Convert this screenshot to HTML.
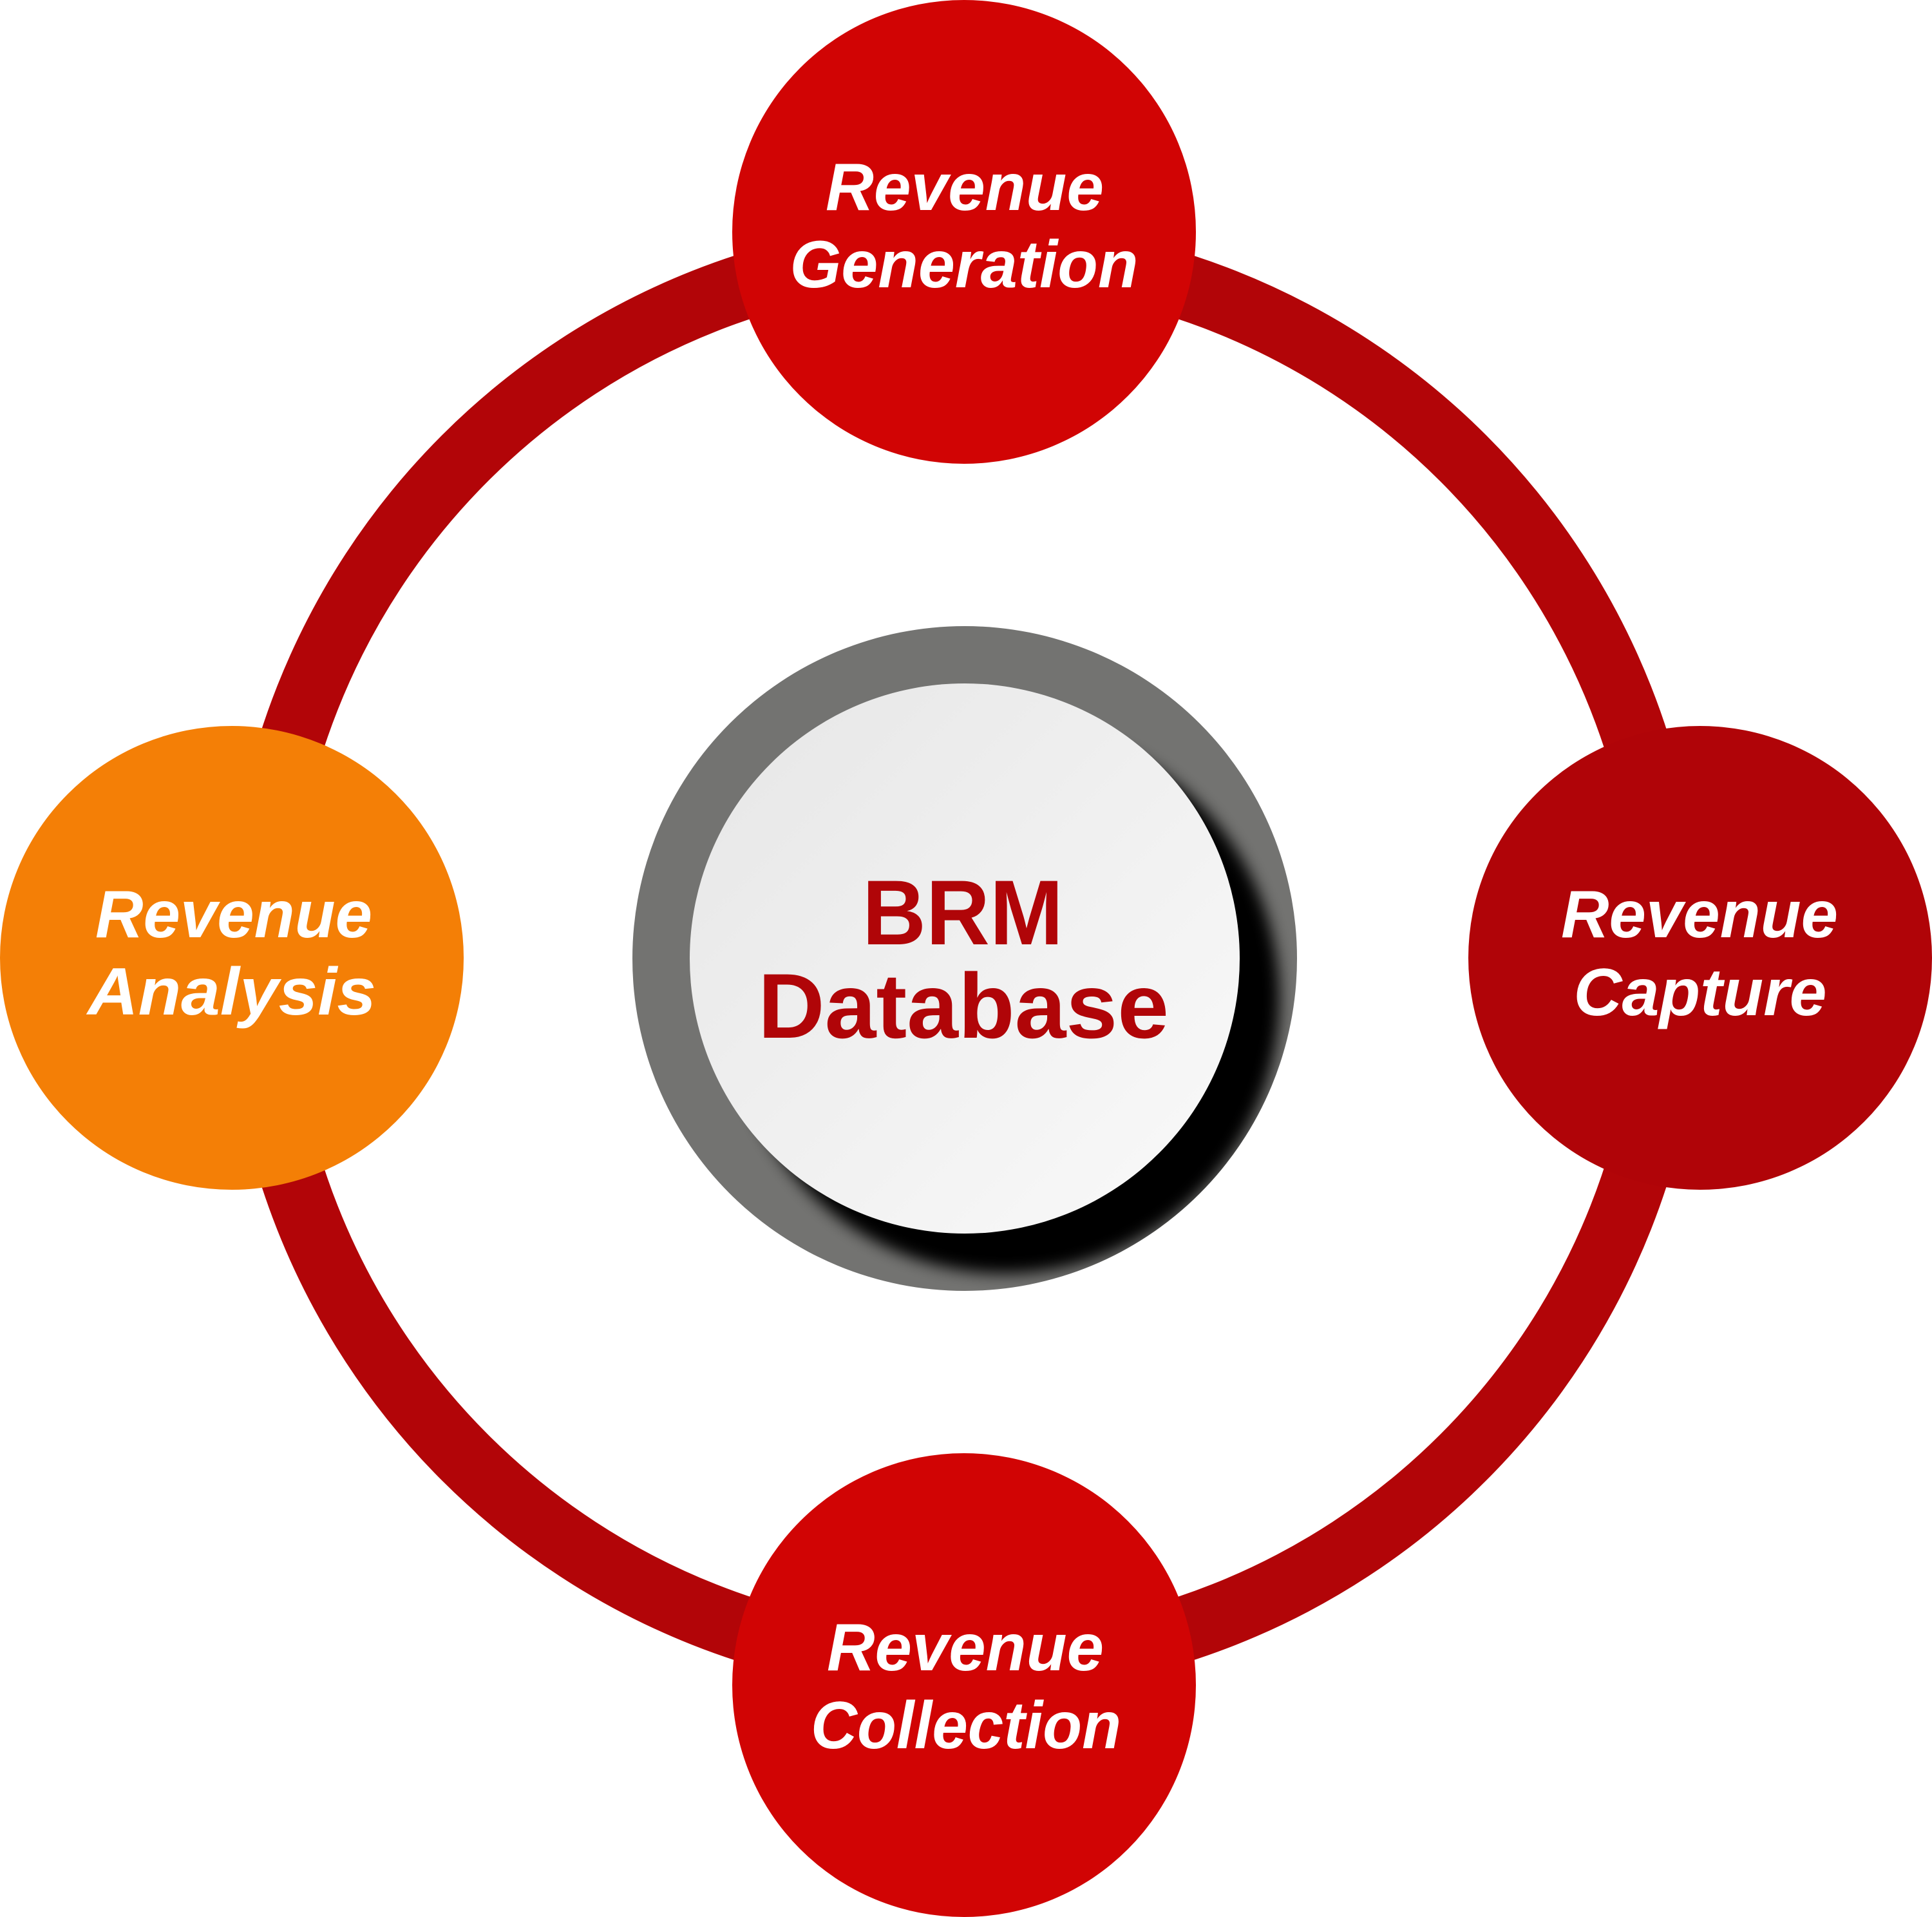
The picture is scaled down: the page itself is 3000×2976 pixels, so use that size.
<!DOCTYPE html>
<html>
<head>
<meta charset="utf-8">
<style>
  html, body { margin: 0; padding: 0; background: #ffffff; }
  svg { display: block; }
  .lbl { font-family: "Liberation Sans", sans-serif; font-weight: bold; font-style: italic; font-size: 104px; fill: #ffffff; }
  .db { font-family: "Liberation Sans", sans-serif; font-weight: bold; font-size: 143px; fill: #b00508; }
</style>
</head>
<body>
<svg width="3000" height="2976" viewBox="0 0 3000 2976" xmlns="http://www.w3.org/2000/svg">
  <defs>
    <clipPath id="outerClip">
      <circle cx="1498" cy="1488" r="516"/>
    </clipPath>
    <filter id="blur" x="-30%" y="-30%" width="160%" height="160%">
      <feGaussianBlur stdDeviation="12"/>
    </filter>
    <linearGradient id="wg" x1="0" y1="0" x2="1" y2="1">
      <stop offset="0" stop-color="#e6e6e6"/>
      <stop offset="1" stop-color="#fafafa"/>
    </linearGradient>
  </defs>

  <!-- big ring -->
  <circle cx="1497" cy="1487" r="1096.5" fill="none" stroke="#b20508" stroke-width="101"/>

  <!-- satellite circles -->
  <circle cx="1497" cy="360" r="360" fill="#d10404"/>
  <circle cx="360" cy="1487" r="360" fill="#f47f06"/>
  <circle cx="2640" cy="1487" r="360" fill="#b00408"/>
  <circle cx="1497" cy="2616" r="360" fill="#d10404"/>

  <!-- center database -->
  <circle cx="1498" cy="1488" r="516" fill="#737371"/>
  <g clip-path="url(#outerClip)">
    <circle cx="1560" cy="1550" r="427" fill="#000000" filter="url(#blur)"/>
  </g>
  <circle cx="1498" cy="1488" r="427" fill="url(#wg)"/>

  <!-- labels -->
  <text class="lbl" x="1498" y="326" text-anchor="middle" textLength="432" lengthAdjust="spacingAndGlyphs">Revenue</text>
  <text class="lbl" x="1497" y="446" text-anchor="middle" textLength="541" lengthAdjust="spacingAndGlyphs">Generation</text>

  <text class="lbl" x="363" y="1455" text-anchor="middle" textLength="430" lengthAdjust="spacingAndGlyphs">Revenue</text>
  <text class="lbl" x="360" y="1575" text-anchor="middle" textLength="448" lengthAdjust="spacingAndGlyphs">Analysis</text>

  <text class="lbl" x="2639" y="1455" text-anchor="middle" textLength="430" lengthAdjust="spacingAndGlyphs">Revenue</text>
  <text class="lbl" x="2640" y="1576" text-anchor="middle" textLength="393" lengthAdjust="spacingAndGlyphs">Capture</text>

  <text class="lbl" x="1499" y="2593" text-anchor="middle" textLength="430" lengthAdjust="spacingAndGlyphs">Revenue</text>
  <text class="lbl" x="1500" y="2714" text-anchor="middle" textLength="482" lengthAdjust="spacingAndGlyphs">Collection</text>

  <text class="db" x="1495" y="1466" text-anchor="middle" textLength="312" lengthAdjust="spacingAndGlyphs">BRM</text>
  <text class="db" x="1496" y="1611" text-anchor="middle" textLength="638" lengthAdjust="spacingAndGlyphs">Database</text>
</svg>
</body>
</html>
